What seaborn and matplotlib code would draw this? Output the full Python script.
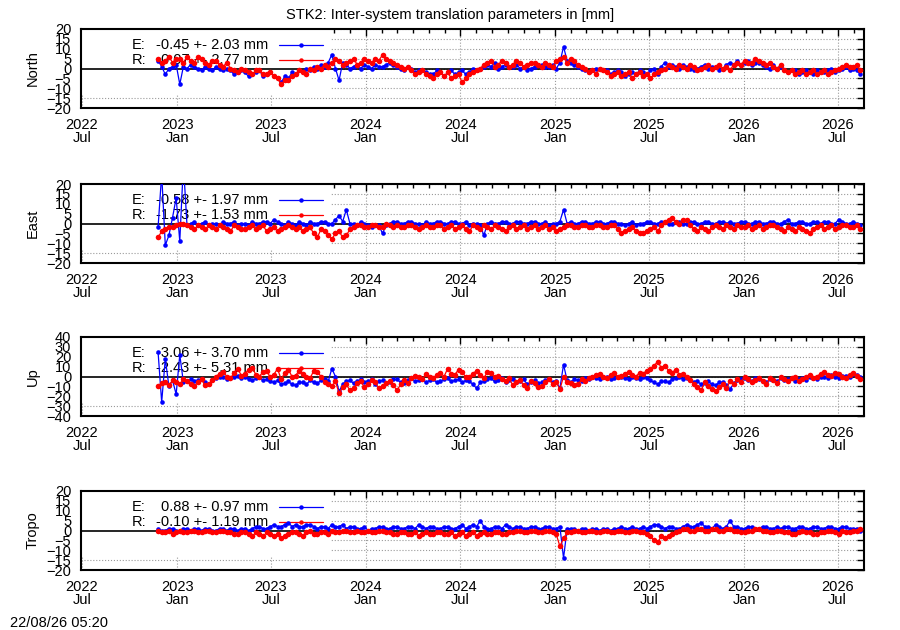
import numpy as np
import pandas as pd
import matplotlib
matplotlib.use("Agg")
import matplotlib.pyplot as plt
import matplotlib.dates as mdates
from matplotlib.patches import Rectangle
import seaborn as sns

# ---------------- data (weekly sampling) ----------------
start_date = "2022-11-25"
step = "7D"

north_E = [4, 1, -3, 0, 1, 2, -8, 1, 0, 2, 1, 0, -1, 1, 0, -1, 1, 0, -1, 0,
           -1, -3, -2, -1, -2, -4, -3, -2, -1, -4, -3, -2, -4, -5, -7, -4, -5, -2, -3, -1,
           -2, 0, -1, 1, 0, 2, 1, 3, 7, 0, -6, 3, 2, 0, 1, 2, 0, 2, 1, 0,
           2, 1, 1, 2, 3, 2, 1, 0, -1, 1, 0, -2, -1, -1, -2, -3, -3, -1, -2, -4,
           -2, -1, -3, -2, -1, -3, -2, 0, -1, 0, 1, 2, 1, 3, 0, 1, 2, 1, 1, 2,
           0, 1, -1, 0, 1, 2, 2, 1, 1, 2, 0, 3, 11, 4, 3, 2, 1, 0, -1, -2,
           -1, 0, 0, -1, -1, -3, -2, -1, -2, -4, -3, -2, -3, -1, -2, -3, -1, 0, -3, 1,
           3, 1, 2, 1, 0, 2, 1, 0, -1, 0, 1, 2, 0, 1, 1, -1, 0, 2, 3, 2,
           4, 2, 3, 4, 2, 3, 3, 2, 1, 0, 2, 0, 1, -1, -2, -1, -1, -3, -2, -1,
           -2, -3, -1, -2, -2, -1, 0, -2, -1, 0, 1, -1, 0, -1, -3]
north_R = [5, 3, 4, 6, 3, 5, 5, 3, 6, 4, 3, 6, 5, 3, 2, 4, 4, 2, 1, 3,
           0, -1, -2, 0, -1, -2, -3, -1, -1, -3, -3, -2, -4, -5, -8, -6, -6, -4, -3, -1,
           -2, -3, 0, -1, 1, 0, 2, 1, 3, 5, 4, 2, 3, 4, 5, 2, 3, 5, 4, 3,
           5, 4, 7, 5, 4, 3, 2, 1, 0, 1, -1, -3, -2, -1, -3, -4, -5, -3, -2, -4,
           -2, -5, -4, -3, -7, -5, -3, -2, -1, 0, 2, 3, 4, 1, 2, 4, 3, 1, 2, 4,
           3, 1, 2, 3, 3, 2, 1, 3, 2, 1, 4, 5, 6, 3, 5, 4, 2, 1, 0, -2,
           -1, -3, 0, -1, -2, -4, -3, -2, -4, -3, -2, -5, -3, -2, -4, -3, -5, -3, -2, -1,
           0, 2, 1, 0, 2, 1, 0, 2, 1, -1, 0, 1, 2, 0, 1, 2, 0, 1, -1, 2,
           3, 2, 4, 3, 3, 5, 4, 3, 2, 3, 1, 0, 2, -1, -2, -1, -3, -2, -1, -3,
           -2, -1, -3, -2, -1, -3, -2, -1, 0, 1, 2, 1, 1, 2, -1]

east_E = [-2, 25, -11, -6, 3, 13, -9, 30,
          -1, 0, 1, -1, 0, 1, -1, 0, 0, -1, 1, 0,
          0, 1, -1, 0, 0, -1, 1, 0, 0, 1, 1, 0, 2, 1, 0, -1, 1, 0, -1, 1,
          0, -1, 1, 0, 0, 1, 1, 0, 0, 2, 4, 1, 7, 0, 0, -1, 1, 0, -1, -2,
          -1, -1, -5, -1, 0, 1, 1, 0, 0, 1, 1, 0, 0, -1, 1, 0, 0, 1, 1, 0,
          0, 1, 1, 0, 0, 1, -1, 0, 0, -1, -6, 0, 1, 0, 0, 1, 1, 0, 0, 1,
          1, 0, 0, 1, 1, 0, 0, 1, -1, 0, 0, 1, 7, 0, 1, 0, 0, 1, 1, 0,
          0, 1, 1, 0, 0, 1, 1, 0, 0, -1, 0, 1, -1, 0, 0, 1, 1, 0, 0, 1,
          1, 0, 0, 1, 1, 0, 0, 1, 1, 0, 0, 1, 1, 0, 0, 1, 1, 0, 1, 0,
          0, 1, 1, 0, 0, 1, 1, 0, 0, 1, 1, 0, 0, 1, 2, 0, 0, 1, 1, 0,
          0, 1, 1, 0, 1, 1, 0, 0, 2, 1, 0, 0, 1, 0, -1]
east_R = [-7, -4, -3, -2, -2, -1, 0, 0, -1, -2, -3, -1, -2, -3, -1, -2, -3, -1, -2, -3,
          -4, -1, -2, -3, -3, -2, -1, -3, -2, -1, -4, -3, -2, -4, -3, -2, -1, -2, -3, -2,
          -4, -3, -2, -5, -7, -3, -4, -6, -8, -5, -4, -7, -6, -3, -2, -1, -1, -2, -2, -1,
          -1, -2, -2, 0, -1, -2, -1, -2, -2, -1, -1, -2, -3, -2, -1, -2, -2, -1, -1, -3,
          -2, -1, -3, -2, -1, -3, -4, -1, -2, -3, -1, -2, -3, -1, -2, -3, -4, -2, -1, -3,
          -2, -1, -3, -2, -1, -3, -2, -1, -3, -2, -4, -3, -2, -1, -1, -2, -2, -1, -1, -2,
          -2, -1, -1, -2, -2, -1, -1, -3, -5, -4, -3, -2, -4, -5, -5, -4, -3, -2, -4, -1,
          1, 2, 3, 1, 0, 2, 2, -1, -3, -4, -2, -3, -4, -2, -1, -2, -3, -1, -2, -3,
          -1, -2, -2, -1, -3, -2, -1, -3, -2, -1, -1, -2, -3, -4, -2, -3, -4, -2, -3, -4,
          -5, -3, -2, -1, -3, -2, -1, -3, -2, -1, -1, -2, -2, -1, -3]

up_E = [25, -26, 18, -10, -4, -18, 22, -6, -5, -3,
        -5, -4, -3, -6, -8, -4, -2, -1, 0, -3,
        -2, 0, 1, -2, 0, -3, -4, -2, -1, -4, -3, -5, -6, -4, -8, -7, -5, -8, -9, -6,
        -6, -8, -4, -6, -7, -4, -3, -5, 8, 0, -15, -8, -5, -4, -7, -5, -3, -6, -5, -3,
        -8, -5, -4, -7, -6, -3, -3, -6, -7, -4, -2, -5, -4, -3, -6, -4, -3, -6, -5, -3,
        -2, -5, -4, -3, -6, -4, -5, -8, -12, -6, -5, -3, -2, -5, -4, -2, -6, -4, -3, -6,
        -5, -3, -8, -6, -4, -7, -6, -4, -3, -6, -5, -12, 12, -4, -6, -3, -4, -5, -2, -3,
        -1, -2, -3, -1, 0, -3, -2, 0, -1, -2, -3, -1, -2, -3, 0, -2, -4, -6, -8, -5,
        -5, -6, -3, -2, 0, -3, -2, -4, -6, -5, -8, -7, -5, -8, -9, -6, -6, -9, -13, -7,
        -4, -3, -2, -4, -5, -2, -3, -5, -6, -3, -4, -5, -2, -4, -3, -2, -5, -3, -2, -4,
        -1, -2, -3, -1, 0, -2, 2, 0, -2, 1, 1, -1, 3, 2, 0]
up_R = [-10, -7, -6, -9, -4, -6, -8, -3, -5, -8, -10, -6, -3, -9, -8, -4, 0, 3, 5, 0,
        -2, 4, 8, 1, 3, 7, 9, 2, 0, 5, 6, -1, 2, 8, -3, 4, 7, 0, 1, 6,
        3, -1, -2, 6, 5, 0, -6, -8, -10, -5, -17, -11, -8, -14, -12, -7, -5, -11, -8, -4,
        -6, -12, -10, -7, -5, -9, -14, -8, -4, -7, -2, 1, 0, -3, 3, -1, -2, 2, 4, 0,
        8, 3, 2, 7, 5, -1, 0, 3, 6, 2, -2, 5, 4, 0, 1, -3, -5, -2, -9, -6,
        -4, -9, -12, -5, -7, -11, -10, -6, -3, -8, -6, -13, 0, -6, -7, -9, -8, -3, -5, -2,
        0, 2, 3, 0, -2, 2, 4, -1, 1, 3, 5, 2, 0, 4, 3, 6, 8, 11, 15, 9,
        11, 6, 4, 7, 2, 3, 0, -4, -8, -11, -14, -6, -10, -13, -15, -11, -8, -12, -5, -8,
        -3, -6, 0, -3, -6, -4, -2, -5, -8, -2, -4, -7, -1, -3, -5, -2, 0, -5, -3, 0,
        2, -2, 0, 3, 5, 2, 1, 4, 3, 0, -2, 2, 4, 1, -3]

tropo_E = [1, 0, 0, 1, 1, 0, 0, 1, 1, 0, 1, 1, 0, 1, 1, 0, 0, 1, 1, 0,
           1, 1, 0, 1, 1, 0, 1, 2, 2, 1, 1, 2, 3, 2, 2, 3, 4, 2, 3, 2,
           2, 3, 3, 2, 1, 2, 2, 1, 3, 2, 2, 3, 1, 2, 2, 1, 1, 2, 0, 1,
           1, 2, 2, 1, 1, 2, 2, 1, 1, 2, 2, 1, 3, 2, 1, 2, 2, 1, 1, 2,
           2, 1, 1, 2, 3, 1, 2, 3, 2, 5, 2, 1, 1, 2, 2, 1, 3, 2, 1, 2,
           2, 1, 1, 2, 2, 1, 1, 2, 2, 1, 1, 2, -14, 1, 1, 1, 0, 1, 1, 0,
           1, 1, 0, 1, 1, 0, 1, 1, 2, 1, 1, 2, 1, 1, 2, 1, 2, 3, 3, 2,
           1, 2, 2, 1, 1, 2, 3, 2, 2, 3, 4, 2, 2, 1, 3, 2, 1, 2, 5, 2,
           2, 1, 1, 2, 2, 1, 1, 2, 2, 1, 1, 2, 1, 2, 2, 1, 1, 2, 2, 1,
           1, 2, 2, 1, 1, 2, 2, 1, 1, 2, 2, 1, 1, 1, 0]
tropo_R = [0, -1, -1, 0, -2, -1, 0, -1, -1, 0, 0, -1, -1, 0, 0, -1, -1, 0, 0, -1,
           -1, -2, -2, -1, -1, -2, -3, -1, -2, -3, -1, -2, -3, -2, -4, -3, -2, -1, -1, -2,
           -3, -1, 0, -2, -2, -1, -1, -2, 0, -1, -1, 0, 0, -1, -1, 0, -1, -1, 0, -1,
           -1, 0, 0, -1, -1, -2, -2, -1, -1, -2, -2, -1, -3, -2, -1, -2, -2, -1, -1, -2,
           -2, -1, -3, -2, -1, -3, -2, -1, -3, -2, -1, -2, -2, -1, -1, -2, -2, -1, -1, 0,
           0, -1, -1, 0, 0, -1, -1, 0, 0, -1, -2, -8, -4, -1, -1, 0, 0, -1, -1, 0,
           0, -1, -1, 0, 0, -1, -1, 0, 0, -1, -1, 0, 0, -1, -1, -2, -3, -5, -6, -3,
           -4, -3, -2, -1, 0, 1, 1, 0, 0, 1, 1, 0, 0, 1, 1, 0, 0, 1, 1, 0,
           0, -1, -1, 0, 0, 1, 1, 0, 0, -1, -1, 0, 0, -1, -1, -2, -2, -1, 0, -1,
           -1, -2, -2, -1, -1, 0, 0, -1, -2, 0, -1, -1, 0, 0, 1]

panel_names = ["North", "East", "Up", "Tropo"]
legend_E = ["-0.45 +- 2.03 mm", "-0.58 +- 1.97 mm", "-3.06 +- 3.70 mm", "0.88 +- 0.97 mm"]
legend_R = ["0.07 +- 2.77 mm", "-1.73 +- 1.53 mm", "-2.43 +- 5.31 mm", "-0.10 +- 1.19 mm"]
y_limits = [20, 20, 40, 20]
y_steps = [5, 5, 10, 5]

tick_dates = ["2022-07-01", "2023-01-01", "2023-07-01", "2024-01-01", "2024-07-01",
              "2025-01-01", "2025-07-01", "2026-01-01", "2026-07-01"]
tick_labels = ["2022\nJul", "2023\nJan", "2023\nJul", "2024\nJan", "2024\nJul",
               "2025\nJan", "2025\nJul", "2026\nJan", "2026\nJul"]

title = "STK2: Inter-system translation parameters in [mm]"
stamp = "22/08/26 05:20"

# ---------------- plotting ----------------
sns.set_theme(style="white")
plt.rcParams['font.family'] = ['Liberation Sans', 'DejaVu Sans']
FS = 10.5

series_E = [north_E, east_E, up_E, tropo_E]
series_R = [north_R, east_R, up_R, tropo_R]

fig = plt.figure(figsize=(9, 6.3), dpi=100)
L = 81 / 900
W = 783 / 900
H = 79 / 630
tops = [29, 184, 337, 491]

for k in range(4):
    ax = fig.add_axes([L, 1 - (tops[k] + 79) / 630, W, H])
    E = np.array(series_E[k], dtype=float)
    R = np.array(series_R[k], dtype=float)
    dfE = pd.DataFrame({"date": pd.date_range(start_date, periods=len(E), freq=step), "v": E})
    dfR = pd.DataFrame({"date": pd.date_range(start_date, periods=len(R), freq=step), "v": R})

    ax.set_axisbelow(True)
    ax.grid(True, which="major", linestyle=":", color="#9a9a9a", linewidth=0.8)
    # opaque key area
    ax.add_patch(Rectangle((0, 0.17), 0.319, 0.83, transform=ax.transAxes,
                           facecolor="white", edgecolor="none", zorder=1))
    ax.axhline(0, color="black", lw=1.2, zorder=1.6)

    sns.lineplot(data=dfE, x="date", y="v", ax=ax, color="#0000ff", marker="o",
                 markersize=3.3, markeredgewidth=0, linewidth=0.9,
                 estimator=None, sort=False, zorder=3)
    sns.lineplot(data=dfR, x="date", y="v", ax=ax, color="#ff0000", marker="o",
                 markersize=4.0, markeredgewidth=0, linewidth=0.9,
                 estimator=None, sort=False, zorder=4)

    lim = y_limits[k]
    ax.set_ylim(-lim, lim)
    ax.set_yticks(np.arange(-lim, lim + 1, y_steps[k]))
    ax.set_xticks(pd.to_datetime(tick_dates))
    ax.set_xticklabels(tick_labels)
    ax.xaxis.set_minor_locator(mdates.MonthLocator())
    ax.set_xlim(pd.Timestamp("2022-06-29"), pd.Timestamp("2026-08-21"))

    ax.tick_params(axis="both", which="both", direction="in", top=True, right=True,
                   color="black", width=1.0, labelsize=FS, labelcolor="black")
    ax.tick_params(axis="both", which="major", length=5)
    ax.tick_params(axis="x", which="minor", length=3)
    ax.tick_params(axis="y", which="major", pad=7)
    ax.tick_params(axis="x", which="major", pad=7.5)
    for t in ax.xaxis.get_major_ticks():
        t.label1.set_linespacing(0.9)
    for sp in ax.spines.values():
        sp.set_linewidth(1.5)
        sp.set_color("black")

    ax.set_xlabel("")
    ax.set_ylabel(panel_names[k], fontsize=FS, color="black")
    ax.yaxis.set_label_coords(-0.053, 0.5)

    # key
    for row, (lab, txt, col) in enumerate([("E:", legend_E[k], "#0000ff"),
                                             ("R:", legend_R[k], "#ff0000")]):
        yy = 0.797 if row == 0 else 0.608
        ax.text(0.065, yy, lab, transform=ax.transAxes, ha="left", va="center",
                fontsize=FS, color="black", zorder=2)
        ax.text(0.2388, yy, txt, transform=ax.transAxes, ha="right", va="center",
                fontsize=FS, color="black", zorder=2)
        ax.plot([0.2529, 0.3090], [yy, yy], transform=ax.transAxes, color=col,
                lw=0.9, zorder=2.5)
        ax.plot([0.281], [yy], transform=ax.transAxes, color=col, marker="o",
                markersize=3.2, markeredgewidth=0, zorder=2.5)

fig.text(0.5, 1 - 15 / 630, title, ha="center", va="center", fontsize=FS, color="black")
fig.text(10 / 900, 1 - 623 / 630, stamp, ha="left", va="center", fontsize=FS, color="black")

fig.savefig("out.png", dpi=100)
